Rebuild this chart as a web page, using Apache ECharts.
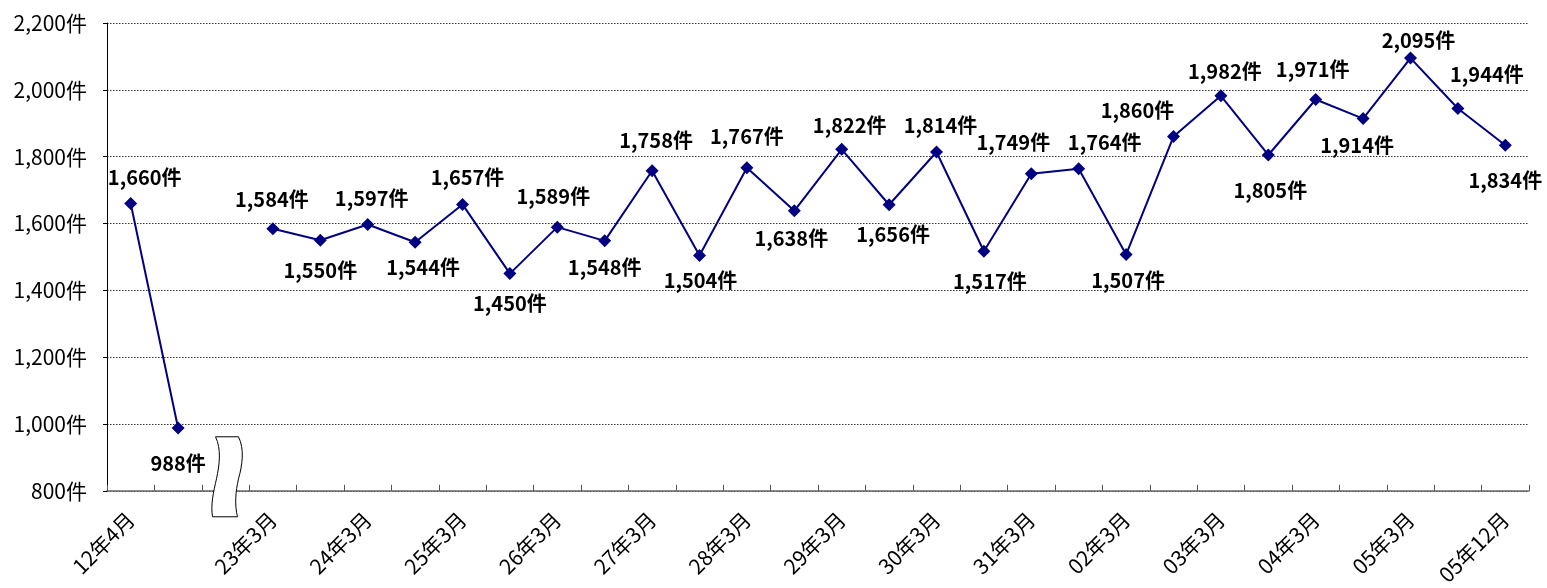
<!DOCTYPE html>
<html>
<head>
<meta charset="utf-8">
<script src="https://cdn.jsdelivr.net/npm/echarts@6/dist/echarts.min.js"></script>
<style>
html,body{margin:0;padding:0;background:#fff;}
#chart{width:1547px;height:588px;}
</style>
</head>
<body>
<div id="chart"></div>
<script>
// ---- data ----
const categories = ['12年4月','','','23年3月','','24年3月','','25年3月','','26年3月','','27年3月','','28年3月','','29年3月','','30年3月','','31年3月','','02年3月','','03年3月','','04年3月','','05年3月','','05年12月'];
const values = [1660, 988, null, 1584, 1550, 1597, 1544, 1657, 1450, 1589, 1548, 1758, 1504, 1767, 1638, 1822, 1656, 1814, 1517, 1749, 1764, 1507, 1860, 1982, 1805, 1971, 1914, 2095, 1944, 1834];
const yMin = 800, yMax = 2200, yStep = 200;
const unit = '件';

// ---- label placement (style only) ----
const labelOffsets = [
  [14,-26],[0,35],[0,0],[-1,-29],[0,30],[4,-26],[8,25],[5,-27],[0,30],[-4,-31],
  [0,27],[4,-30],[1,25],[0,-31],[-3,28],[8,-24],[4,30],[4,-27],[6,30],[-18,-31],
  [26,-26],[2,26],[-36,-26],[4,-24],[2,35],[-3,-30],[-6,27],[8,-18],[29,-34],[0,35]
];

const fmt = v => v.toLocaleString('en-US') + unit;
const FONT = '"Noto Sans CJK JP", "Noto Sans", sans-serif';

const chart = echarts.init(document.getElementById('chart'), null, {renderer:'canvas'});

const seriesData = values.map((v, i) => ({
  value: v,
  label: { offset: labelOffsets[i] }
}));

chart.setOption({
  animation: false,
  backgroundColor: '#fff',
  grid: { left: 107, right: 18, top: 23, bottom: 97, containLabel: false },
  xAxis: {
    type: 'category',
    data: categories,
    boundaryGap: true,
    axisLine: { show: true, lineStyle: { color: '#666', width: 1.5 } },
    axisTick: { show: true, inside: true, length: 6, interval: 0, lineStyle: { color: '#555', width: 1 } },
    axisLabel: { interval: 0, rotate: 45, margin: 25, color: '#000', fontSize: 21, fontFamily: FONT },
    splitLine: { show: false }
  },
  yAxis: {
    type: 'value',
    min: yMin, max: yMax, interval: yStep,
    axisLine: { show: true, lineStyle: { color: '#000', width: 1 } },
    axisTick: { show: true, inside: false, length: 4, lineStyle: { color: '#000' } },
    axisLabel: { margin: 20, color: '#000', fontSize: 21, fontFamily: FONT, formatter: fmt },
    splitLine: { show: true, lineStyle: { color: '#333', width: 1, type: [1.5, 1.5] } }
  },
  series: [{
    type: 'line',
    data: seriesData,
    connectNulls: false,
    symbol: 'diamond',
    symbolSize: 13,
    lineStyle: { color: '#000080', width: 2 },
    itemStyle: { color: '#000080' },
    label: {
      show: true,
      position: 'inside',
      color: '#000',
      fontSize: 20,
      fontWeight: 'bold',
      fontFamily: FONT,
      formatter: p => fmt(p.value)
    },
    z: 3
  }]
});

// axis break symbol, positioned from the axis scales
const breakX = chart.convertToPixel({xAxisIndex: 0}, 2);
const breakBase = chart.convertToPixel({yAxisIndex: 0}, yMin);
const breakTop = breakBase - 54;
const breakPath = echarts.graphic.makePath(
  'M -10 0 L 13 0 C 19 12 17 28 13 42 C 10 55 9 68 12 80 L -13 80 C -15 68 -12 55 -9 42 C -6 28 -4 12 -10 0 Z',
  { x: breakX, y: breakTop, z: 100, style: { fill: '#fff', stroke: '#000', lineWidth: 1 } }
);
chart.getZr().add(breakPath);
</script>
</body>
</html>
